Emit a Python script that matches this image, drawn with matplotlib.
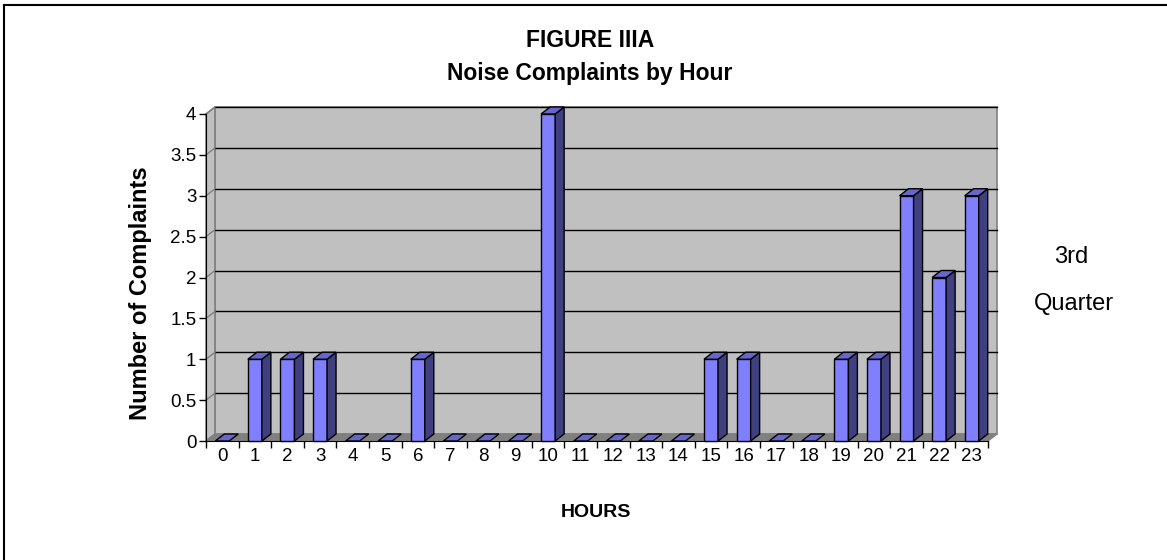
import numpy as np
import matplotlib
matplotlib.use("Agg")
import matplotlib.pyplot as plt
from matplotlib.patches import Polygon

plt.rcParams['font.family'] = ['Liberation Sans', 'DejaVu Sans']

hours = list(range(24))
complaints = [0, 1, 1, 1, 0, 0, 1, 0, 0, 0, 4, 0, 0, 0, 0, 1, 1, 0, 0, 1, 1, 3, 2, 3]
y_ticks = [0, 0.5, 1, 1.5, 2, 2.5, 3, 3.5, 4]

W, H = 1167, 560
fig = plt.figure(figsize=(W / 100, H / 100), dpi=100)

# front plane of the 3d box, in pixels
x0, x1, yb, yt = 206, 988, 441, 114
ax = fig.add_axes([x0 / W, 1 - yb / H, (x1 - x0) / W, (yb - yt) / H])
ax.set_xlim(-0.5, 23.5)
ax.set_ylim(0, 4)

# depth of the 3d effect (pixels -> data)
dx = 9 / ((x1 - x0) / 24)
dy = 7 / ((yb - yt) / 4)

lo, hi = -0.5, 23.5
top = y_ticks[-1]

# walls
back = Polygon([(lo + dx, dy), (hi + dx, dy), (hi + dx, top + dy), (lo + dx, top + dy)],
               facecolor='#C0C0C0', edgecolor='#808080', lw=1.2, clip_on=False, zorder=0)
side = Polygon([(lo, 0), (lo + dx, dy), (lo + dx, top + dy), (lo, top)],
               facecolor='#C0C0C0', edgecolor='#808080', lw=1.2, clip_on=False, zorder=0)
floor = Polygon([(lo, 0), (hi, 0), (hi + dx, dy), (lo + dx, dy)],
                facecolor='#808080', edgecolor='#808080', lw=1, clip_on=False, zorder=0.5)
for p in (back, side, floor):
    ax.add_patch(p)

for v in y_ticks[1:]:
    ax.plot([lo + dx, hi + dx], [v + dy, v + dy], color='black', lw=1, clip_on=False, zorder=0.6)
    ax.plot([lo, lo + dx], [v, v + dy], color='#808080', lw=1, clip_on=False, zorder=0.6)

# bars
bw = 0.43
for h, c in zip(hours, complaints):
    l, r = h - bw / 2, h + bw / 2
    if c > 0:
        ax.add_patch(Polygon([(l, 0), (r, 0), (r, c), (l, c)], facecolor='#8080FF',
                             edgecolor='black', lw=1, clip_on=False, zorder=3))
        ax.add_patch(Polygon([(r, 0), (r + dx, dy), (r + dx, c + dy), (r, c)], facecolor='#404080',
                             edgecolor='black', lw=1, clip_on=False, zorder=3))
    ax.add_patch(Polygon([(l, c), (r, c), (r + dx, c + dy), (l + dx, c + dy)], facecolor='#6666CC',
                         edgecolor='black', lw=1, clip_on=False, zorder=3))

for s in ('top', 'right'):
    ax.spines[s].set_visible(False)
ax.spines['left'].set_color('black')
ax.spines['bottom'].set_color('black')
ax.patch.set_visible(False)

ax.set_yticks(y_ticks)
ax.set_yticklabels(['%g' % v for v in y_ticks])
ax.set_xticks(np.arange(-0.5, 24, 1))
ax.set_xticklabels([])
ax.set_xticks(hours, minor=True)
ax.set_xticklabels([str(h) for h in hours], minor=True)
ax.tick_params(axis='both', which='major', direction='out', length=5, width=1, labelsize=13.5, pad=2)
ax.tick_params(axis='x', which='minor', length=0, labelsize=13.5, pad=5)

# titles and labels
fig.text(590 / W, 1 - 47 / H, 'FIGURE IIIA', ha='center', va='baseline', fontsize=16.5, fontweight='bold')
fig.text(590 / W, 1 - 80 / H, 'Noise Complaints by Hour', ha='center', va='baseline', fontsize=16.5,
         fontweight='bold')
fig.text(141 / W, 1 - 293 / H, 'Number of Complaints', ha='center', va='center', rotation=90,
         fontsize=17, fontweight='bold')
fig.text(596 / W, 1 - 517 / H, 'HOURS', ha='center', va='baseline', fontsize=14, fontweight='bold')
fig.text(1071 / W, 1 - 263 / H, '3rd', ha='center', va='baseline', fontsize=17)
fig.text(1074 / W, 1 - 310 / H, 'Quarter', ha='center', va='baseline', fontsize=17)

# frame (only top and left edges are visible in the picture)
fig.add_artist(plt.Line2D([3.5 / W, 1], [1 - 4.5 / H, 1 - 4.5 / H], color='black', lw=1.5))
fig.add_artist(plt.Line2D([3.5 / W, 3.5 / W], [0, 1 - 4.5 / H], color='black', lw=1.5))

fig.savefig('out.png', dpi=100)
